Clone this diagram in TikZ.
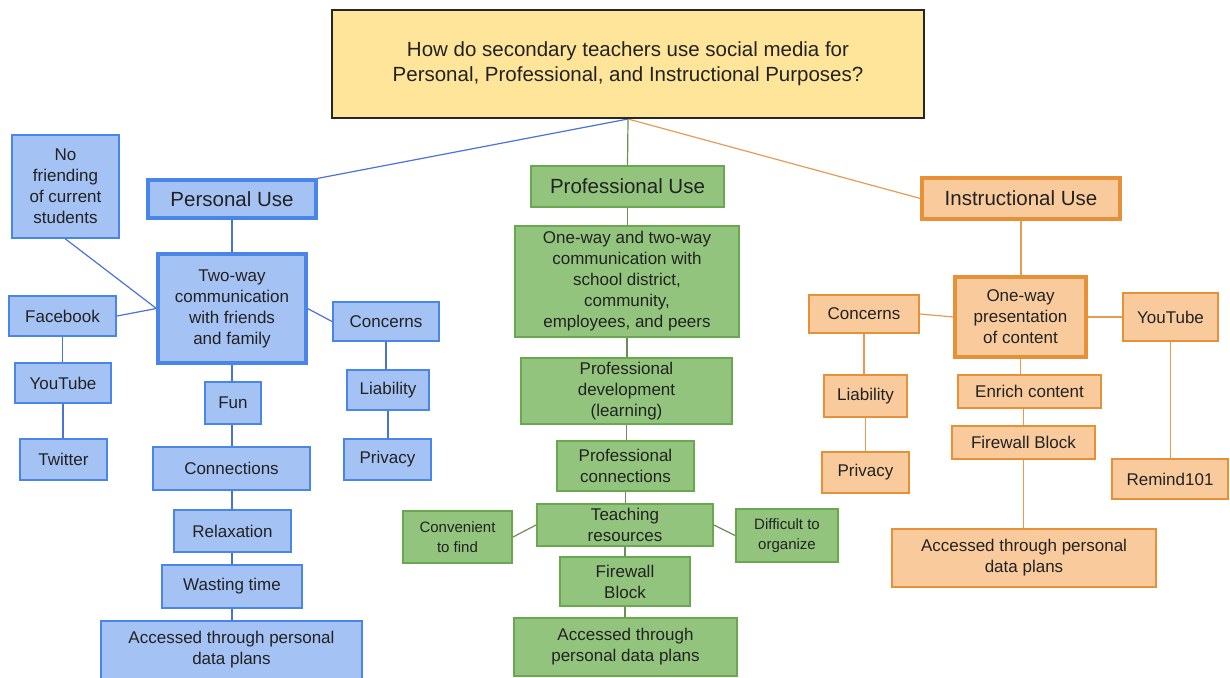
\documentclass[tikz,border=0pt]{standalone}
\usepackage{fontspec}
\setmainfont{Liberation Sans}
\usetikzlibrary{backgrounds}
\definecolor{bfill}{HTML}{A4C2F4}
\definecolor{bdraw}{HTML}{4A86E8}
\definecolor{bline}{HTML}{4A72D8}
\definecolor{gfill}{HTML}{93C47D}
\definecolor{gdraw}{HTML}{6AA84F}
\definecolor{gline}{HTML}{6B8E5A}
\definecolor{ofill}{HTML}{F9CB9C}
\definecolor{odraw}{HTML}{E69138}
\definecolor{oline}{HTML}{E69B55}
\definecolor{qfill}{HTML}{FFE599}
\definecolor{txt}{HTML}{222222}
\tikzset{
  base/.style={rectangle, inner sep=0pt, align=center, text=txt,
    font=\fontsize{17}{21}\selectfont, line width=2pt},
  big/.style={font=\fontsize{20.5}{25}\selectfont},
  small/.style={font=\fontsize{15}{20}\selectfont},
  thick box/.style={line width=3.2pt},
  bbox/.style={base, fill=bfill, draw=bdraw},
  gbox/.style={base, fill=gfill, draw=gdraw},
  obox/.style={base, fill=ofill, draw=odraw},
  sz/.style 2 args={minimum width=#1pt, minimum height=#2pt},
  bl/.style={draw=bline, line width=1.2pt},
  gl/.style={draw=gline, line width=1.2pt},
  ol/.style={draw=oline, line width=1.2pt},
}
\begin{document}
\begin{tikzpicture}[x=1pt, y=-1pt]
\useasboundingbox (0,0) rectangle (1230,677);

% central question
\node[base, big, fill=qfill, draw=black!85, sz={592}{108}] (top) at (628,64)
  {How do secondary teachers use social media for\\Personal, Professional, and Instructional Purposes?};

% ---- personal use (blue)
\node[bbox, big, thick box, sz={168}{38}] (pers) at (232,199) {Personal Use};
\node[bbox, sz={107}{103}] (nofr) at (65.5,186.5) {No\\friending\\of current\\students};
\node[bbox, thick box, sz={148}{109}] (twoway) at (232,308.5) {Two-way\\communication\\with friends\\and family};
\node[bbox, sz={107}{40}] (fb) at (62.5,316) {Facebook};
\node[bbox, sz={106}{39}] (bcon) at (386,321.5) {Concerns};
\node[bbox, sz={96}{40}] (byt) at (63,383) {YouTube};
\node[bbox, sz={82}{40}] (blia) at (388,390) {Liability};
\node[bbox, sz={56}{42}] (fun) at (233,403) {Fun};
\node[bbox, sz={87}{41}] (tw) at (63.5,459.5) {Twitter};
\node[bbox, sz={87}{41}] (bpriv) at (387.5,459.5) {Privacy};
\node[bbox, sz={157}{43}] (conn) at (231.5,468.5) {Connections};
\node[bbox, sz={117}{42}] (relax) at (232.5,531) {Relaxation};
\node[bbox, sz={140}{43}] (waste) at (232,586.5) {Wasting time};
\node[bbox, sz={261}{58}] (bacc) at (231.5,650) {Accessed through personal\\data plans};

% ---- professional use (green)
\node[gbox, big, sz={193}{41}] (prof) at (627.5,186.5) {Professional Use};
\node[gbox, sz={224}{111}] (gone) at (627,281.5) {One-way and two-way\\communication with\\school district,\\community,\\employees, and peers};
\node[gbox, sz={211}{66}] (gdev) at (626.5,391) {Professional\\development\\(learning)};
\node[gbox, sz={137}{50}] (gconn) at (625.5,466) {Professional\\connections};
\node[gbox, sz={176}{42}] (teach) at (625,525) {Teaching\\resources};
\node[gbox, small, sz={109}{52}] (conv) at (457.5,537) {Convenient\\to find};
\node[gbox, small, sz={102}{53}] (diff) at (787,535.5) {Difficult to\\organize};
\node[gbox, sz={130}{49}] (gfire) at (625,581.5) {Firewall\\Block};
\node[gbox, sz={223}{58}] (gacc) at (625.5,647) {Accessed through\\personal data plans};

% ---- instructional use (orange)
\node[obox, big, thick box, sz={198}{41}] (inst) at (1021,198.5) {Instructional Use};
\node[obox, thick box, sz={131}{80}] (opres) at (1020.5,317) {One-way\\presentation\\of content};
\node[obox, sz={110}{38}] (ocon) at (864,314) {Concerns};
\node[obox, sz={95}{48}] (oyt) at (1170.5,317) {YouTube};
\node[obox, sz={83}{42}] (olia) at (865.5,396) {Liability};
\node[obox, sz={143}{33}] (enrich) at (1029.5,391.5) {Enrich content};
\node[obox, sz={143}{33}] (ofire) at (1023.5,442.5) {Firewall Block};
\node[obox, sz={87}{41}] (opriv) at (865.5,472.5) {Privacy};
\node[obox, sz={116}{40}] (remind) at (1170,479) {Remind101};
\node[obox, sz={264}{58}] (oacc) at (1024,558) {Accessed through personal\\data plans};

% ---- connectors, kept behind the boxes
\begin{pgfonlayer}{background}
\draw[bl] (top.south) -- (pers.north east);
\draw[gl] (top.south) -- (prof.north);
\draw[ol] (top.south) -- (inst.west);

\draw[bl] (pers.south) -- (pers.south |- twoway.north);
\draw[bl] (nofr.south) -- (twoway.west);
\draw[bl] (fb.east) -- (twoway.west);
\draw[bl] (twoway.east) -- (bcon.west);
\draw[bl] (fb.south) -- (fb.south |- byt.north);
\draw[bl] (byt.south) -- (byt.south |- tw.north);
\draw[bl] (bcon.south) -- (bcon.south |- blia.north);
\draw[bl] (blia.south) -- (blia.south |- bpriv.north);
\draw[bl] (twoway.south) -- (twoway.south |- fun.north);
\draw[bl] (fun.south -| twoway.south) -- (twoway.south |- conn.north);
\draw[bl] (conn.south -| twoway.south) -- (twoway.south |- relax.north);
\draw[bl] (relax.south -| twoway.south) -- (twoway.south |- waste.north);
\draw[bl] (waste.south -| twoway.south) -- (twoway.south |- bacc.north);

\draw[gl] (prof.south) -- (prof.south |- gone.north);
\draw[gl] (gone.south) -- (gone.south |- gdev.north);
\draw[gl] (gdev.south) -- (gdev.south |- gconn.north);
\draw[gl] (gconn.south) -- (gconn.south |- teach.north);
\draw[gl] (teach.south) -- (teach.south |- gfire.north);
\draw[gl] (gfire.south) -- (gfire.south |- gacc.north);
\draw[gl] (teach.west) -- (conv.east);
\draw[gl] (teach.east) -- (diff.west);

\draw[ol] (inst.south) -- (inst.south |- opres.north);
\draw[ol] (opres.west) -- (ocon.east);
\draw[ol] (opres.east) -- (oyt.west);
\draw[ol] (ocon.south) -- (ocon.south |- olia.north);
\draw[ol] (olia.south) -- (olia.south |- opriv.north);
\draw[ol] (opres.south) -- (opres.south |- enrich.north);
\draw[ol] (enrich.south -| ofire.north) -- (ofire.north);
\draw[ol] (ofire.south) -- (ofire.south |- oacc.north);
\draw[ol] (oyt.south) -- (oyt.south |- remind.north);
\end{pgfonlayer}
\end{tikzpicture}
\end{document}
